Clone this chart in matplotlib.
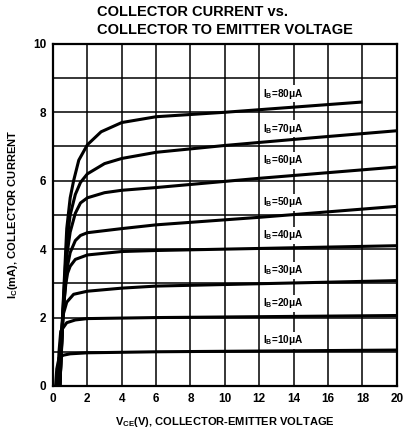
import matplotlib
matplotlib.use('Agg')
import matplotlib.pyplot as plt

plt.rcParams['font.family'] = ['Liberation Sans', 'DejaVu Sans']
plt.rcParams['font.weight'] = 'bold'
plt.rcParams['axes.labelweight'] = 'bold'
plt.rcParams['mathtext.fontset'] = 'custom'
plt.rcParams['mathtext.rm'] = 'Liberation Sans:bold'
plt.rcParams['mathtext.it'] = 'Liberation Sans:bold'
plt.rcParams['mathtext.bf'] = 'Liberation Sans:bold'

# base current (uA) -> (Vce in V, Ic in mA)
ib_values = [80, 70, 60, 50, 40, 30, 20, 10]
vce = {
    80: [0.4, 0.6, 0.8, 1.0, 1.2, 1.5, 2.0, 2.8, 4.0, 6.0, 10.0, 14.0, 18.0],
    70: [0.4, 0.6, 0.8, 1.0, 1.3, 1.6, 2.0, 3.0, 4.0, 6.0, 10.0, 15.0, 20.0],
    60: [0.4, 0.6, 0.8, 1.0, 1.3, 1.6, 2.0, 3.0, 4.0, 6.0, 12.0, 20.0],
    50: [0.4, 0.6, 0.8, 1.0, 1.3, 1.6, 2.0, 4.0, 6.0, 12.0, 20.0],
    40: [0.35, 0.55, 0.75, 0.85, 1.0, 1.3, 2.0, 4.0, 6.0, 20.0],
    30: [0.3, 0.45, 0.6, 0.8, 1.2, 2.0, 4.0, 6.0, 20.0],
    20: [0.25, 0.35, 0.45, 0.8, 1.3, 2.0, 6.0, 20.0],
    10: [0.15, 0.22, 0.35, 0.6, 1.0, 2.0, 6.0, 20.0],
}
ic = {
    80: [0.0, 2.5, 4.6, 5.5, 6.0, 6.6, 7.05, 7.43, 7.7, 7.87, 8.0, 8.15, 8.3],
    70: [0.0, 2.4, 4.2, 5.0, 5.6, 5.95, 6.2, 6.5, 6.65, 6.83, 7.03, 7.25, 7.46],
    60: [0.0, 2.3, 3.8, 4.5, 5.05, 5.35, 5.5, 5.65, 5.72, 5.8, 6.07, 6.4],
    50: [0.0, 2.2, 3.4, 3.9, 4.25, 4.4, 4.48, 4.6, 4.71, 4.93, 5.25],
    40: [0.0, 2.0, 3.0, 3.3, 3.5, 3.7, 3.83, 3.93, 3.96, 4.1],
    30: [0.0, 1.4, 2.1, 2.45, 2.68, 2.77, 2.86, 2.92, 3.08],
    20: [0.0, 1.0, 1.6, 1.85, 1.93, 1.97, 2.0, 2.06],
    10: [0.0, 0.5, 0.82, 0.9, 0.94, 0.97, 1.0, 1.05],
}
label_y = {80: 8.54, 70: 7.52, 60: 6.6, 50: 5.37, 40: 4.4, 30: 3.38, 20: 2.42, 10: 1.34}

fig = plt.figure(figsize=(4.03, 4.32), dpi=100)
ax = fig.add_axes([0.1315, 0.1065, 0.853, 0.792])

ax.set_xlim(0, 20)
ax.set_ylim(0, 10)
ax.set_xticks(range(0, 21, 2))
ax.set_yticks(range(0, 11, 2))
ax.set_yticks(range(0, 11), minor=True)
ax.tick_params(which='both', length=0, labelsize=8.5, pad=5)
ax.grid(True, which='both', color='black', linewidth=1.1)
ax.set_axisbelow(True)
for s in ax.spines.values():
    s.set_linewidth(1.6)

for ib in ib_values:
    ax.plot(vce[ib], ic[ib], color='black', linewidth=2.2, solid_capstyle='butt', zorder=3)
    ax.text(12.2, label_y[ib], r'I$_\mathregular{B}$=%dμA' % ib, fontsize=7.2,
            ha='left', va='center', zorder=4,
            bbox=dict(facecolor='white', edgecolor='none', pad=1.0))

ax.set_xlabel(r'V$_\mathregular{CE}$(V), COLLECTOR-EMITTER VOLTAGE', fontsize=8, labelpad=7)
ax.set_ylabel(r'I$_\mathregular{C}$(mA), COLLECTOR CURRENT', fontsize=8, labelpad=9)

fig.text(0.24, 0.972, 'COLLECTOR CURRENT vs.', fontsize=10.5, fontweight='bold', ha='left', va='center')
fig.text(0.24, 0.930, 'COLLECTOR TO EMITTER VOLTAGE', fontsize=10.5, fontweight='bold', ha='left', va='center')

fig.savefig('out.png', dpi=100)
